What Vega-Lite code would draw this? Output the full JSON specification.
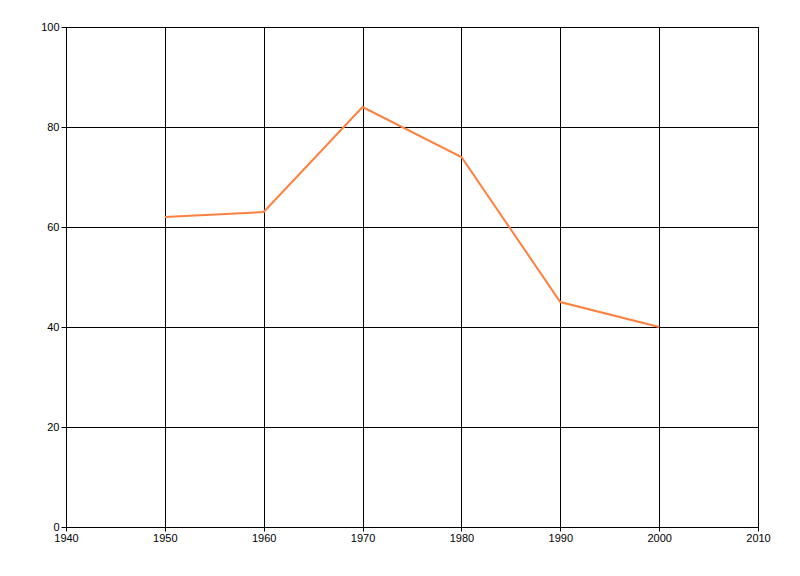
{
  "$schema": "https://vega.github.io/schema/vega-lite/v6.json",
  "autosize": {"type": "none"},
  "padding": {"left": 66, "top": 27, "right": 42, "bottom": 49},
  "width": 692,
  "height": 500,
  "background": "white",
  "data": {
    "values": [
      {"year": 1950, "value": 62},
      {"year": 1960, "value": 63},
      {"year": 1970, "value": 84},
      {"year": 1980, "value": 74},
      {"year": 1990, "value": 45},
      {"year": 2000, "value": 40}
    ]
  },
  "mark": {"type": "line", "color": "#FF7F3F", "strokeWidth": 2},
  "encoding": {
    "x": {
      "field": "year",
      "type": "quantitative",
      "scale": {"domain": [1940, 2010], "nice": false, "zero": false},
      "axis": {
        "title": null,
        "values": [1940, 1950, 1960, 1970, 1980, 1990, 2000, 2010],
        "format": "d",
        "labelPadding": 1,
        "tickSize": 4,
        "labelFlush": false
      }
    },
    "y": {
      "field": "value",
      "type": "quantitative",
      "scale": {"domain": [0, 100], "nice": false},
      "axis": {
        "title": null,
        "values": [0, 20, 40, 60, 80, 100],
        "tickSize": 5,
        "labelPadding": 2,
        "labelFlush": false
      }
    }
  },
  "config": {
    "view": {"stroke": "black", "strokeWidth": 1},
    "axis": {
      "grid": true,
      "gridColor": "black",
      "gridOpacity": 1,
      "gridWidth": 1,
      "domainColor": "black",
      "tickColor": "black",
      "labelColor": "black",
      "labelFont": "Liberation Sans",
      "labelFontSize": 11
    }
  }
}
